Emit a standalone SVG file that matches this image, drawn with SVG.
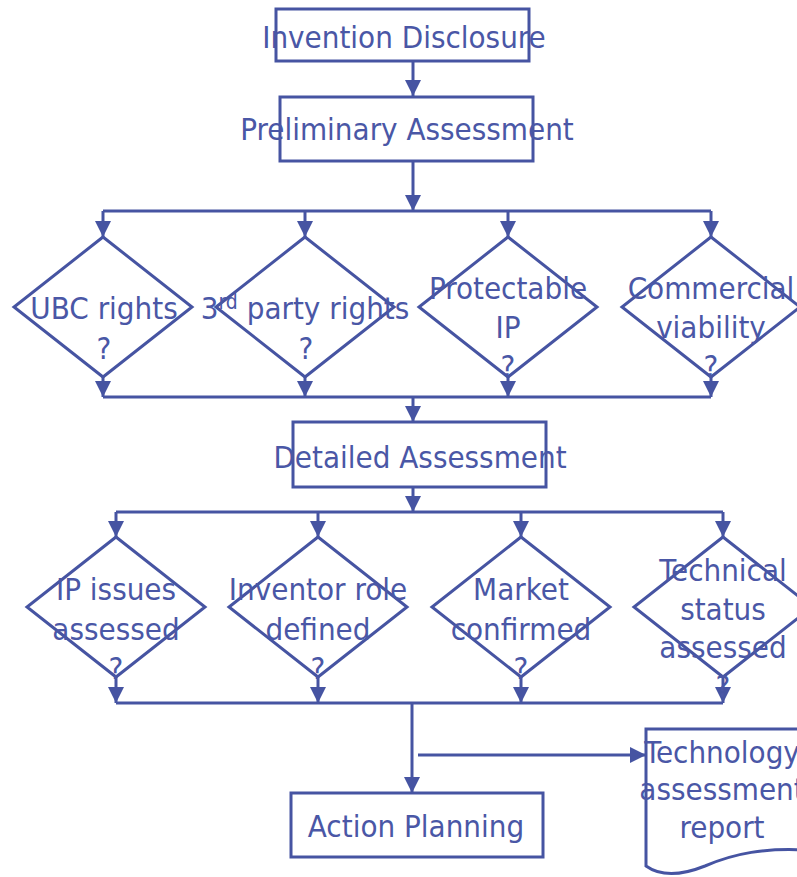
<svg xmlns="http://www.w3.org/2000/svg" width="797" height="877" viewBox="0 0 797 877">
<style>
  .shape{fill:none;stroke:#4654A2;stroke-width:3}
  .line{fill:none;stroke:#4654A2;stroke-width:3}
  .arr{fill:none;stroke:#4654A2;stroke-width:3;marker-end:url(#ah)}
  text{font-family:"DejaVu Sans Condensed","DejaVu Sans",sans-serif;font-stretch:condensed;font-size:31px;fill:#4A57A6;text-anchor:middle}
  .sup{font-size:21px}
</style>
<defs>
  <marker id="ah" markerUnits="userSpaceOnUse" markerWidth="16" markerHeight="16" viewBox="0 0 15 15" refX="15" refY="7.5" orient="auto">
    <path d="M0,0 L15,7.5 L0,15 Z" fill="#4654A2"/>
  </marker>
</defs>
<rect width="797" height="877" fill="#ffffff"/>

<g id="connectors">
  <path class="arr" d="M413,61 V96"/>
  <path class="arr" d="M413,161 V211"/>
  <path class="line" d="M103,211 H711"/>
  <path class="arr" d="M103,211 V237"/>
  <path class="arr" d="M305,211 V237"/>
  <path class="arr" d="M508,211 V237"/>
  <path class="arr" d="M711,211 V237"/>
  <path class="arr" d="M103,377 V397"/>
  <path class="arr" d="M305,377 V397"/>
  <path class="arr" d="M508,377 V397"/>
  <path class="arr" d="M711,377 V397"/>
  <path class="line" d="M103,397 H711"/>
  <path class="arr" d="M413,397 V422"/>
  <path class="arr" d="M413,487 V512"/>
  <path class="line" d="M116,512 H723"/>
  <path class="arr" d="M116,512 V537"/>
  <path class="arr" d="M318,512 V537"/>
  <path class="arr" d="M521,512 V537"/>
  <path class="arr" d="M723,512 V537"/>
  <path class="arr" d="M116,677 V703"/>
  <path class="arr" d="M318,677 V703"/>
  <path class="arr" d="M521,677 V703"/>
  <path class="arr" d="M723,677 V703"/>
  <path class="line" d="M116,703 H723"/>
  <path class="arr" d="M412,703 V793"/>
  <path class="arr" d="M418,755 H646"/>
</g>

<g id="invention-disclosure">
  <rect class="shape" x="276" y="9" width="253" height="52"/>
  <text x="404" y="48">Invention Disclosure</text>
</g>
<g id="preliminary-assessment">
  <rect class="shape" x="280" y="97" width="253" height="64"/>
  <text x="407" y="140">Preliminary Assessment</text>
</g>

<g id="ubc-rights">
  <path class="shape" d="M103,237 L192,307 L103,377 L14,307 Z"/>
  <text x="104" y="319">UBC rights</text>
  <text x="104" y="359">?</text>
</g>
<g id="third-party-rights">
  <path class="shape" d="M305,237 L394,307 L305,377 L216,307 Z"/>
  <text x="305" y="319">3<tspan class="sup" dy="-10">rd</tspan><tspan dy="10"> party rights</tspan></text>
  <text x="306" y="359">?</text>
</g>
<g id="protectable-ip">
  <path class="shape" d="M508,237 L597,307 L508,377 L419,307 Z"/>
  <text x="508" y="299">Protectable</text>
  <text x="508" y="338">IP</text>
  <text x="508" y="377">?</text>
</g>
<g id="commercial-viability">
  <path class="shape" d="M711,237 L800,307 L711,377 L622,307 Z"/>
  <text x="711" y="299">Commercial</text>
  <text x="711" y="338">viability</text>
  <text x="711" y="377">?</text>
</g>

<g id="detailed-assessment">
  <rect class="shape" x="293" y="422" width="253" height="65"/>
  <text x="420" y="468">Detailed Assessment</text>
</g>

<g id="ip-issues">
  <path class="shape" d="M116,537 L205,607 L116,677 L27,607 Z"/>
  <text x="116" y="600">IP issues</text>
  <text x="116" y="640">assessed</text>
  <text x="116" y="679">?</text>
</g>
<g id="inventor-role">
  <path class="shape" d="M318,537 L407,607 L318,677 L229,607 Z"/>
  <text x="318" y="600">Inventor role</text>
  <text x="318" y="640">defined</text>
  <text x="318" y="679">?</text>
</g>
<g id="market-confirmed">
  <path class="shape" d="M521,537 L610,607 L521,677 L432,607 Z"/>
  <text x="521" y="600">Market</text>
  <text x="521" y="640">confirmed</text>
  <text x="521" y="679">?</text>
</g>
<g id="technical-status">
  <path class="shape" d="M723,537 L812,607 L723,677 L634,607 Z"/>
  <text x="723" y="581">Technical</text>
  <text x="723" y="620">status</text>
  <text x="723" y="658">assessed</text>
  <text x="723" y="697">?</text>
</g>

<g id="action-planning">
  <rect class="shape" x="291" y="793" width="252" height="64"/>
  <text x="416" y="837">Action Planning</text>
</g>

<g id="technology-report">
  <path class="shape" d="M805,729 H646 V866 C660,876 680,876 705,866 C735,853 765,848 805,850"/>
  <text x="722" y="763">Technology</text>
  <text x="722" y="800">assessment</text>
  <text x="722" y="838">report</text>
</g>
</svg>
